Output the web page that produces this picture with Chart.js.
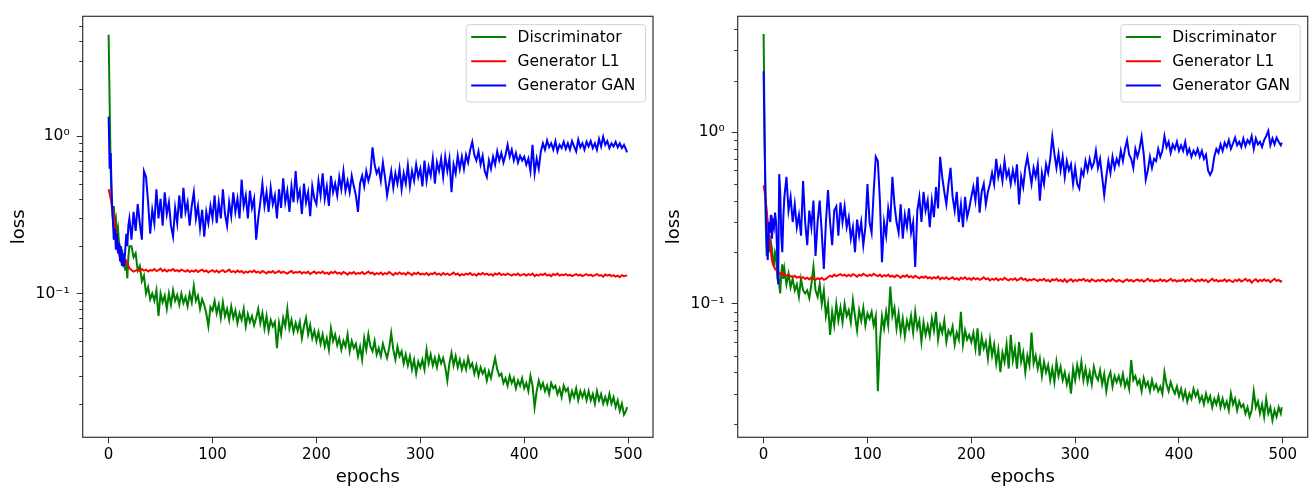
<!DOCTYPE html>
<html>
<head>
<meta charset="utf-8">
<script src="https://cdn.jsdelivr.net/npm/chart.js@4"></script>
<style>
  html, body { margin: 0; padding: 0; background: #fff; }
  .panel { position: absolute; top: 0; width: 656px; height: 493px; }
  #leftPanel { left: 0; }
  #rightPanel { left: 656px; }
</style>
</head>
<body>
<div class="panel" id="leftPanel"><canvas id="lossLeft"></canvas></div>
<div class="panel" id="rightPanel"><canvas id="lossRight"></canvas></div>
<script>
/* -------------------------------------------------------------
 * 1. DATA (every epoch up to 20,
 *    then every 2nd epoch)
 * ------------------------------------------------------------- */
const epochs = [
	0, 1, 2, 3, 4, 5, 6, 7, 8, 9, 10, 11, 12, 13, 14, 15, 16, 17, 18, 19, 20,
	22, 24, 26, 28, 30, 32, 34, 36, 38, 40,
	42, 44, 46, 48, 50, 52, 54, 56, 58, 60,
	62, 64, 66, 68, 70, 72, 74, 76, 78, 80,
	82, 84, 86, 88, 90, 92, 94, 96, 98, 100,
	102, 104, 106, 108, 110, 112, 114, 116, 118, 120,
	122, 124, 126, 128, 130, 132, 134, 136, 138, 140,
	142, 144, 146, 148, 150, 152, 154, 156, 158, 160,
	162, 164, 166, 168, 170, 172, 174, 176, 178, 180,
	182, 184, 186, 188, 190, 192, 194, 196, 198, 200,
	202, 204, 206, 208, 210, 212, 214, 216, 218, 220,
	222, 224, 226, 228, 230, 232, 234, 236, 238, 240,
	242, 244, 246, 248, 250, 252, 254, 256, 258, 260,
	262, 264, 266, 268, 270, 272, 274, 276, 278, 280,
	282, 284, 286, 288, 290, 292, 294, 296, 298, 300,
	302, 304, 306, 308, 310, 312, 314, 316, 318, 320,
	322, 324, 326, 328, 330, 332, 334, 336, 338, 340,
	342, 344, 346, 348, 350, 352, 354, 356, 358, 360,
	362, 364, 366, 368, 370, 372, 374, 376, 378, 380,
	382, 384, 386, 388, 390, 392, 394, 396, 398, 400,
	402, 404, 406, 408, 410, 412, 414, 416, 418, 420,
	422, 424, 426, 428, 430, 432, 434, 436, 438, 440,
	442, 444, 446, 448, 450, 452, 454, 456, 458, 460,
	462, 464, 466, 468, 470, 472, 474, 476, 478, 480,
	482, 484, 486, 488, 490, 492, 494, 496, 498, 499
];

const seriesNames = [ 'Discriminator', 'Generator L1', 'Generator GAN' ];
const seriesColors = [ '#008000', '#ff0000', '#0000ff' ];
const xTicks = [ 0, 100, 200, 300, 400, 500 ];
const yTicks = [ 0.1, 1 ];

// left run
const discLeft = [
	4.4, 1.6, 0.6, 0.36, 0.3, 0.36, 0.28, 0.3, 0.24, 0.26, 0.21, 0.2, 0.17, 0.19, 0.15, 0.17, 0.14, 0.16, 0.125, 0.17, 0.2,
	0.2, 0.17, 0.18, 0.14, 0.15, 0.12, 0.13, 0.1, 0.11, 0.092,
	0.1, 0.09, 0.105, 0.072, 0.1, 0.088, 0.097, 0.08, 0.1, 0.085,
	0.105, 0.09, 0.098, 0.085, 0.1, 0.087, 0.095, 0.083, 0.1, 0.088,
	0.112, 0.09, 0.097, 0.08, 0.092, 0.085, 0.075, 0.062, 0.082, 0.078,
	0.09, 0.075, 0.085, 0.07, 0.088, 0.072, 0.08, 0.068, 0.083, 0.07,
	0.078, 0.065, 0.075, 0.068, 0.08, 0.062, 0.074, 0.066, 0.072, 0.063,
	0.07, 0.08, 0.065, 0.075, 0.06, 0.072, 0.058, 0.068, 0.062, 0.066,
	0.045, 0.065, 0.055, 0.07, 0.062, 0.08, 0.06, 0.068, 0.057, 0.065,
	0.058, 0.066, 0.052, 0.062, 0.07, 0.055, 0.063, 0.052, 0.058, 0.05,
	0.057, 0.048, 0.055, 0.046, 0.052, 0.044, 0.06, 0.05, 0.055, 0.047,
	0.052, 0.044, 0.05, 0.046, 0.055, 0.043, 0.05, 0.045, 0.048, 0.04,
	0.046, 0.038, 0.052, 0.044, 0.055, 0.046, 0.043, 0.05, 0.041, 0.045,
	0.04, 0.048, 0.043, 0.039, 0.045, 0.056, 0.044, 0.038, 0.046, 0.04,
	0.043, 0.036, 0.041, 0.035, 0.04, 0.033, 0.038, 0.031, 0.037, 0.034,
	0.038, 0.033, 0.044, 0.036, 0.041, 0.035, 0.039, 0.034, 0.04, 0.036,
	0.039, 0.034, 0.028, 0.036, 0.042, 0.035, 0.04, 0.034, 0.038, 0.033,
	0.037, 0.033, 0.039, 0.034, 0.036, 0.031, 0.035, 0.03, 0.034, 0.031,
	0.033, 0.028, 0.032, 0.029, 0.034, 0.039, 0.033, 0.03, 0.031, 0.027,
	0.029, 0.026, 0.03, 0.027, 0.029, 0.025, 0.028, 0.026, 0.029, 0.025,
	0.027, 0.024, 0.03, 0.026, 0.019, 0.024, 0.028, 0.025, 0.027, 0.024,
	0.026, 0.023, 0.027, 0.025, 0.026, 0.023, 0.025, 0.022, 0.026, 0.024,
	0.025, 0.021, 0.024, 0.022, 0.025, 0.021, 0.024, 0.022, 0.024, 0.021,
	0.024, 0.021, 0.023, 0.02, 0.024, 0.021, 0.023, 0.02, 0.022, 0.02,
	0.023, 0.02, 0.022, 0.019, 0.021, 0.018, 0.02, 0.017, 0.018, 0.019
];
const l1Left = [
	0.46, 0.43, 0.4, 0.37, 0.34, 0.31, 0.28, 0.25, 0.22, 0.2, 0.18, 0.17, 0.16, 0.155, 0.15, 0.155, 0.16, 0.162, 0.158, 0.15, 0.145,
	0.141, 0.138, 0.14, 0.142, 0.139, 0.143, 0.14, 0.142, 0.138, 0.141,
	0.14, 0.143, 0.139, 0.141, 0.144, 0.139, 0.142, 0.138, 0.141, 0.14,
	0.143, 0.139, 0.141, 0.138, 0.142, 0.14, 0.138, 0.141, 0.137, 0.14,
	0.138, 0.141, 0.137, 0.14, 0.142, 0.138, 0.14, 0.136, 0.139, 0.141,
	0.137, 0.14, 0.136, 0.139, 0.141, 0.137, 0.139, 0.142, 0.137, 0.139,
	0.136, 0.14, 0.137, 0.139, 0.135, 0.138, 0.136, 0.139, 0.137, 0.14,
	0.136, 0.138, 0.135, 0.139, 0.137, 0.134, 0.138, 0.136, 0.139, 0.135,
	0.137, 0.139, 0.135, 0.138, 0.136, 0.134, 0.137, 0.139, 0.135, 0.137,
	0.136, 0.138, 0.134, 0.137, 0.135, 0.138, 0.133, 0.136, 0.138, 0.134,
	0.137, 0.135, 0.138, 0.134, 0.136, 0.133, 0.137, 0.135, 0.138, 0.134,
	0.136, 0.133, 0.137, 0.135, 0.132, 0.136, 0.134, 0.137, 0.133, 0.135,
	0.134, 0.137, 0.133, 0.135, 0.138, 0.134, 0.136, 0.132, 0.135, 0.133,
	0.136, 0.132, 0.135, 0.133, 0.137, 0.134, 0.131, 0.135, 0.133, 0.136,
	0.133, 0.135, 0.132, 0.136, 0.134, 0.131, 0.135, 0.133, 0.136, 0.132,
	0.134, 0.132, 0.135, 0.131, 0.134, 0.133, 0.136, 0.132, 0.134, 0.131,
	0.135, 0.132, 0.134, 0.131, 0.133, 0.136, 0.132, 0.134, 0.13, 0.133,
	0.131, 0.134, 0.132, 0.135, 0.131, 0.133, 0.13, 0.134, 0.132, 0.135,
	0.132, 0.134, 0.131, 0.133, 0.13, 0.134, 0.132, 0.135, 0.131, 0.133,
	0.131, 0.134, 0.132, 0.13, 0.133, 0.131, 0.134, 0.13, 0.132, 0.133,
	0.13, 0.133, 0.131, 0.134, 0.129, 0.132, 0.13, 0.133, 0.131, 0.134,
	0.13, 0.132, 0.129, 0.133, 0.131, 0.134, 0.13, 0.132, 0.131, 0.133,
	0.13, 0.132, 0.129, 0.131, 0.133, 0.13, 0.132, 0.129, 0.131, 0.133,
	0.13, 0.132, 0.129, 0.131, 0.133, 0.13, 0.131, 0.128, 0.132, 0.13,
	0.132, 0.129, 0.131, 0.128, 0.13, 0.127, 0.131, 0.129, 0.13, 0.131
];
const ganLeft = [
	1.33, 0.62, 0.78, 0.42, 0.3, 0.22, 0.26, 0.19, 0.24, 0.18, 0.21, 0.16, 0.2, 0.15, 0.18, 0.15, 0.19, 0.24, 0.2, 0.27, 0.3,
	0.22, 0.33, 0.25, 0.37, 0.28, 0.22, 0.6, 0.55, 0.38, 0.24,
	0.34, 0.28, 0.46, 0.3, 0.4, 0.27, 0.44, 0.32, 0.38, 0.27,
	0.23, 0.35, 0.28, 0.42, 0.3, 0.47, 0.33, 0.38, 0.27, 0.36,
	0.44, 0.3, 0.36, 0.26, 0.34, 0.23, 0.33, 0.28, 0.36, 0.3,
	0.42, 0.28, 0.38, 0.3, 0.46, 0.32, 0.27, 0.38, 0.31, 0.44,
	0.33, 0.4, 0.3, 0.53, 0.36, 0.42, 0.3, 0.45, 0.35, 0.4,
	0.22, 0.3, 0.38, 0.5, 0.36, 0.44, 0.33, 0.47, 0.37, 0.42,
	0.3, 0.46, 0.35, 0.54, 0.38, 0.45, 0.33, 0.48, 0.38, 0.6,
	0.4, 0.45, 0.32, 0.5, 0.38, 0.44, 0.31, 0.48, 0.4, 0.37,
	0.52, 0.42, 0.58, 0.4, 0.48, 0.36, 0.56, 0.44, 0.5, 0.42,
	0.55, 0.46, 0.6, 0.45, 0.52, 0.44, 0.56, 0.48, 0.42, 0.33,
	0.5, 0.56, 0.48, 0.6, 0.52, 0.58, 0.85, 0.66, 0.58, 0.62,
	0.52, 0.68, 0.55, 0.42, 0.5, 0.6, 0.47, 0.58, 0.5, 0.62,
	0.46, 0.58, 0.5, 0.65, 0.48, 0.6, 0.52, 0.66, 0.55, 0.62,
	0.48, 0.7, 0.52, 0.64, 0.56, 0.72, 0.5, 0.68, 0.6, 0.72,
	0.55, 0.74, 0.6, 0.72, 0.44, 0.66, 0.58, 0.75, 0.62, 0.74,
	0.62, 0.76, 0.68, 0.82, 0.92, 0.76, 0.7, 0.8, 0.66, 0.75,
	0.6, 0.55, 0.7, 0.62, 0.74, 0.66, 0.8, 0.7, 0.78, 0.68,
	0.76, 0.88, 0.74, 0.82, 0.7, 0.78, 0.68, 0.75, 0.7, 0.74,
	0.66, 0.72, 0.6, 0.88, 0.58, 0.72, 0.62, 0.8, 0.9, 0.82,
	0.94, 0.85, 0.9, 0.82, 0.93, 0.8, 0.88, 0.84, 0.92, 0.83,
	0.9, 0.82, 0.93, 0.86, 0.8, 0.95, 0.85, 0.9, 0.82, 0.92,
	0.86, 0.93, 0.84, 0.9, 0.82, 0.96, 0.86, 0.99, 0.88, 0.93,
	0.84, 0.9, 0.86, 0.92, 0.85, 0.9, 0.84, 0.88, 0.82, 0.79
];

// right run
const discRight = [
	3.74, 1.0, 0.3, 0.19, 0.22, 0.25, 0.2, 0.23, 0.21, 0.18, 0.17, 0.2, 0.19, 0.15, 0.16, 0.13, 0.115, 0.15, 0.17, 0.14, 0.16,
	0.13, 0.15, 0.125, 0.14, 0.12, 0.13, 0.11, 0.14, 0.12, 0.115,
	0.12, 0.108, 0.13, 0.165, 0.12, 0.11, 0.13, 0.1, 0.12, 0.085,
	0.1, 0.066, 0.09, 0.075, 0.1, 0.08, 0.095, 0.078, 0.1, 0.085,
	0.092, 0.078, 0.105, 0.085, 0.07, 0.092, 0.08, 0.095, 0.075, 0.088,
	0.082, 0.09, 0.075, 0.085, 0.031, 0.06, 0.085, 0.072, 0.09, 0.075,
	0.126, 0.085, 0.095, 0.072, 0.088, 0.068, 0.082, 0.065, 0.08, 0.072,
	0.085, 0.068, 0.09, 0.072, 0.08, 0.06, 0.078, 0.066, 0.075, 0.065,
	0.082, 0.07, 0.09, 0.062, 0.075, 0.068, 0.08, 0.06, 0.07, 0.066,
	0.074, 0.058, 0.068, 0.062, 0.09, 0.058, 0.07, 0.062, 0.066, 0.06,
	0.068, 0.055, 0.072, 0.05, 0.064, 0.055, 0.06, 0.048, 0.062, 0.05,
	0.058, 0.045, 0.054, 0.04, 0.052, 0.046, 0.058, 0.042, 0.066, 0.047,
	0.055, 0.042, 0.06, 0.046, 0.052, 0.04, 0.05, 0.044, 0.068, 0.045,
	0.05, 0.042, 0.048, 0.038, 0.046, 0.04, 0.044, 0.036, 0.042, 0.035,
	0.046, 0.038, 0.043, 0.036, 0.04, 0.034, 0.038, 0.03, 0.042, 0.036,
	0.044, 0.038, 0.046, 0.036, 0.042, 0.035, 0.04, 0.034, 0.043, 0.038,
	0.036, 0.041, 0.034, 0.039, 0.031, 0.037, 0.04, 0.033, 0.038, 0.035,
	0.038, 0.034, 0.039, 0.033, 0.036, 0.032, 0.047, 0.036, 0.038, 0.034,
	0.036, 0.031, 0.037, 0.033, 0.035, 0.031, 0.036, 0.032, 0.034, 0.031,
	0.033, 0.03, 0.04, 0.034, 0.031, 0.035, 0.032, 0.03, 0.033, 0.029,
	0.032, 0.028, 0.031, 0.027, 0.03, 0.028, 0.032, 0.029, 0.031, 0.027,
	0.029, 0.026, 0.03, 0.027, 0.029, 0.025, 0.028, 0.026, 0.029, 0.025,
	0.028, 0.025, 0.027, 0.024, 0.03, 0.026, 0.028, 0.024, 0.027, 0.025,
	0.026, 0.023, 0.025, 0.022, 0.024, 0.031, 0.025, 0.027, 0.023, 0.026,
	0.022, 0.028, 0.023, 0.025, 0.021, 0.024, 0.022, 0.025, 0.023, 0.025
];
const l1Right = [
	0.49, 0.45, 0.4, 0.35, 0.3, 0.26, 0.23, 0.2, 0.18, 0.17, 0.165, 0.16, 0.158, 0.155, 0.152, 0.15, 0.151, 0.149, 0.152, 0.148, 0.147,
	0.146, 0.148, 0.145, 0.143, 0.146, 0.142, 0.144, 0.141, 0.143, 0.14,
	0.142, 0.139, 0.143, 0.14, 0.138, 0.141, 0.139, 0.142, 0.138, 0.14,
	0.143, 0.146, 0.144, 0.148, 0.145, 0.147, 0.149, 0.146, 0.148, 0.145,
	0.148, 0.145, 0.149, 0.147, 0.144, 0.148, 0.146, 0.15, 0.147, 0.145,
	0.148, 0.146, 0.15, 0.147, 0.145, 0.148, 0.144, 0.147, 0.145, 0.148,
	0.144, 0.146, 0.143, 0.147, 0.145, 0.142, 0.146, 0.144, 0.147, 0.143,
	0.145, 0.142, 0.146, 0.143, 0.141, 0.144, 0.142, 0.145, 0.141, 0.143,
	0.14, 0.143, 0.141, 0.144, 0.139, 0.142, 0.14, 0.143, 0.139, 0.141,
	0.143, 0.139, 0.141, 0.138, 0.142, 0.14, 0.143, 0.139, 0.141, 0.138,
	0.142, 0.139, 0.141, 0.138, 0.14, 0.143, 0.139, 0.141, 0.137, 0.14,
	0.138, 0.141, 0.137, 0.14, 0.138, 0.142, 0.139, 0.137, 0.14, 0.138,
	0.141, 0.137, 0.139, 0.142, 0.138, 0.14, 0.136, 0.139, 0.137, 0.14,
	0.138, 0.136, 0.139, 0.137, 0.14, 0.136, 0.138, 0.135, 0.139, 0.137,
	0.14, 0.136, 0.138, 0.135, 0.139, 0.134, 0.137, 0.139, 0.135, 0.138,
	0.136, 0.139, 0.137, 0.14, 0.136, 0.138, 0.135, 0.139, 0.137, 0.135,
	0.138, 0.136, 0.139, 0.137, 0.135, 0.138, 0.136, 0.14, 0.137, 0.135,
	0.138, 0.136, 0.134, 0.137, 0.139, 0.136, 0.138, 0.135, 0.137, 0.139,
	0.136, 0.138, 0.135, 0.137, 0.14, 0.136, 0.138, 0.135, 0.137, 0.136,
	0.139, 0.136, 0.138, 0.135, 0.137, 0.14, 0.136, 0.138, 0.135, 0.137,
	0.136, 0.139, 0.135, 0.138, 0.136, 0.14, 0.137, 0.135, 0.138, 0.136,
	0.139, 0.136, 0.138, 0.134, 0.137, 0.14, 0.136, 0.138, 0.135, 0.137,
	0.136, 0.139, 0.135, 0.138, 0.136, 0.134, 0.138, 0.136, 0.139, 0.135,
	0.137, 0.14, 0.136, 0.138, 0.133, 0.137, 0.139, 0.135, 0.138, 0.136,
	0.139, 0.136, 0.138, 0.134, 0.137, 0.14, 0.136, 0.138, 0.135, 0.137
];
const ganRight = [
	2.27, 0.82, 0.38, 0.22, 0.18, 0.3, 0.26, 0.33, 0.24, 0.3, 0.28, 0.34, 0.3, 0.2, 0.13, 0.57, 0.45, 0.25, 0.2, 0.32, 0.42,
	0.55, 0.35, 0.42, 0.3, 0.38, 0.28, 0.33, 0.25, 0.52, 0.3,
	0.22, 0.35, 0.28, 0.4, 0.19, 0.3, 0.4, 0.26, 0.16, 0.3,
	0.46, 0.3, 0.22, 0.35, 0.37, 0.25, 0.39, 0.3, 0.37, 0.28,
	0.32, 0.24, 0.28, 0.2, 0.31, 0.25, 0.3, 0.22, 0.28, 0.5,
	0.3, 0.26, 0.45, 0.72, 0.68, 0.4, 0.175, 0.3, 0.25, 0.36,
	0.3, 0.55, 0.38, 0.3, 0.26, 0.38, 0.24, 0.33, 0.28, 0.36,
	0.26, 0.3, 0.164, 0.35, 0.42, 0.3, 0.45, 0.35, 0.4, 0.28,
	0.4, 0.32, 0.48, 0.36, 0.72, 0.55, 0.45, 0.38, 0.5, 0.62,
	0.42, 0.35, 0.45, 0.3, 0.38, 0.28, 0.42, 0.32, 0.36, 0.42,
	0.48, 0.4, 0.55, 0.34, 0.45, 0.5, 0.38, 0.45, 0.5, 0.58,
	0.5, 0.7, 0.55, 0.62, 0.52, 0.68, 0.55, 0.6, 0.5, 0.6,
	0.52, 0.65, 0.38, 0.55, 0.48, 0.62, 0.72, 0.6, 0.5, 0.62,
	0.55, 0.65, 0.4, 0.58, 0.5, 0.65, 0.58, 0.7, 0.94, 0.75,
	0.62, 0.75, 0.6, 0.72, 0.55, 0.68, 0.6, 0.65, 0.5, 0.62,
	0.5, 0.47, 0.6, 0.56, 0.68, 0.6, 0.7, 0.62, 0.66, 0.78,
	0.62, 0.7, 0.55, 0.43, 0.55, 0.68, 0.58, 0.72, 0.62, 0.7,
	0.65, 0.78, 0.68, 0.8, 0.9, 0.74, 0.7, 0.62, 0.8, 0.72,
	0.8, 0.94, 0.75, 0.53, 0.6, 0.72, 0.62, 0.7, 0.68, 0.8,
	0.72, 0.78, 0.95, 0.82, 0.88, 0.76, 0.85, 0.8, 0.88, 0.78,
	0.84, 0.78, 0.88, 0.75, 0.8, 0.72, 0.78, 0.74, 0.8, 0.72,
	0.78, 0.7, 0.74, 0.6, 0.565, 0.6, 0.72, 0.8, 0.76, 0.85,
	0.78, 0.87, 0.82, 0.9, 0.8, 0.86, 0.93, 0.84, 0.88, 0.82,
	0.92, 0.83, 0.9, 0.86, 0.95, 0.8, 0.92, 0.85, 0.88, 0.82,
	0.9, 0.95, 1.02, 0.84, 0.92, 0.85, 0.93, 0.88, 0.84, 0.87
];

/* -------------------------------------------------------------
 * 2. HELPERS
 * ------------------------------------------------------------- */
const FONT = '"DejaVu Sans", sans-serif';
const INK = '#333333';

function toPoints( values ) {
	if ( values.length !== epochs.length ) {
		throw new Error( 'length mismatch: ' + values.length + ' vs ' + epochs.length );
	}
	return values.map( ( v, i ) => ( { x: epochs[ i ], y: v } ) );
}

function supLabel( v ) {
	return v === 1 ? '10\u2070' : '10\u207B\u00B9';
}

// frame, minor log ticks and the matplotlib-style legend box
const framePlugin = {
	id: 'mplFrame',
	afterDraw( chart ) {
		const { ctx, chartArea: a } = chart;
		const y = chart.scales.y;
		ctx.save();

		ctx.strokeStyle = INK;
		ctx.lineWidth = 1;
		ctx.beginPath();
		const lo = Math.floor( Math.log10( y.min ) );
		const hi = Math.ceil( Math.log10( y.max ) );
		for ( let p = lo; p <= hi; p++ ) {
			for ( let m = 2; m <= 9; m++ ) {
				const v = m * Math.pow( 10, p );
				if ( v < y.min || v > y.max ) continue;
				const py = Math.round( y.getPixelForValue( v ) ) + 0.5;
				ctx.moveTo( a.left - 3.5, py );
				ctx.lineTo( a.left, py );
			}
		}
		ctx.stroke();

		ctx.lineWidth = 1.2;
		ctx.strokeRect( a.left, a.top, a.right - a.left, a.bottom - a.top );

		// legend
		const bw = 179.3;
		const bh = 77.5;
		const bx = a.right - 7.5 - bw;
		const by = a.top + 8.3;
		ctx.fillStyle = 'rgba(255,255,255,0.85)';
		ctx.strokeStyle = '#d4d4d4';
		ctx.lineWidth = 1;
		ctx.beginPath();
		ctx.roundRect( bx, by, bw, bh, 3 );
		ctx.fill();
		ctx.stroke();

		ctx.font = '15.5px ' + FONT;
		ctx.textBaseline = 'middle';
		chart.data.datasets.forEach( ( ds, i ) => {
			const ly = by + 12.4 + i * 24.2;
			ctx.strokeStyle = ds.borderColor;
			ctx.lineWidth = 2;
			ctx.beginPath();
			ctx.moveTo( bx + 5, ly );
			ctx.lineTo( bx + 40, ly );
			ctx.stroke();
			ctx.fillStyle = '#000';
			ctx.fillText( ds.label, bx + 51.3, ly + 1, bw - 58 );
		} );

		ctx.restore();
	}
};

function makeChart( canvasId, series, yRange, axisWidth, padRight, lossPad ) {
	return new Chart( document.getElementById( canvasId ), {
		type: 'line',
		data: {
			datasets: series.map( ( values, i ) => ( {
				label: seriesNames[ i ],
				data: toPoints( values ),
				borderColor: seriesColors[ i ],
				backgroundColor: seriesColors[ i ],
				borderWidth: 2,
				pointRadius: 0,
				tension: 0,
				fill: false,
				order: 3 - i
			} ) )
		},
		options: {
			responsive: true,
			maintainAspectRatio: false,
			animation: false,
			devicePixelRatio: 1,
			layout: {
				autoPadding: false,
				padding: { top: 11, right: padRight, bottom: 0, left: 0 }
			},
			plugins: {
				legend: { display: false },
				tooltip: { enabled: false }
			},
			scales: {
				x: {
					type: 'linear',
					min: -24.95,
					max: 523.95,
					bounds: 'data',
					afterBuildTicks: ( s ) => {
						s.ticks = xTicks.map( ( v ) => ( { value: v } ) );
					},
					afterFit: ( s ) => {
						s.height = 55.7;
					},
					border: { display: false },
					grid: {
						drawOnChartArea: false,
						drawTicks: true,
						tickLength: 6,
						tickColor: INK,
						tickWidth: 1
					},
					ticks: {
						color: '#000',
						font: { family: FONT, size: 15 },
						padding: 3,
						maxRotation: 0,
						autoSkip: false
					},
					title: {
						display: true,
						text: 'epochs',
						color: '#000',
						font: { family: FONT, size: 18 },
						padding: { top: 0, bottom: 5 }
					}
				},
				y: {
					type: 'logarithmic',
					min: yRange[ 0 ],
					max: yRange[ 1 ],
					bounds: 'data',
					afterBuildTicks: ( s ) => {
						s.ticks = yTicks.map( ( v ) => ( { value: v, major: true } ) );
					},
					afterFit: ( s ) => {
						s.width = axisWidth;
					},
					border: { display: false },
					grid: {
						drawOnChartArea: false,
						drawTicks: true,
						tickLength: 6,
						tickColor: INK,
						tickWidth: 1
					},
					ticks: {
						color: '#000',
						font: { family: FONT, size: 15.5 },
						padding: 7,
						autoSkip: false,
						callback: ( v ) => supLabel( v )
					},
					title: {
						display: true,
						text: 'loss',
						color: '#000',
						font: { family: FONT, size: 18 },
						padding: { top: lossPad, bottom: 0 }
					}
				}
			}
		},
		plugins: [ framePlugin ]
	} );
}

/* -------------------------------------------------------------
 * 3. CHARTS
 * ------------------------------------------------------------- */
makeChart( 'lossLeft', [ discLeft, l1Left, ganLeft ], [ 0.01222, 5.77 ], 82.7, 3, 8.8 );
makeChart( 'lossRight', [ discRight, l1Right, ganRight ], [ 0.0167, 4.74 ], 81.7, 4.3, 7.5 );
</script>
</body>
</html>
